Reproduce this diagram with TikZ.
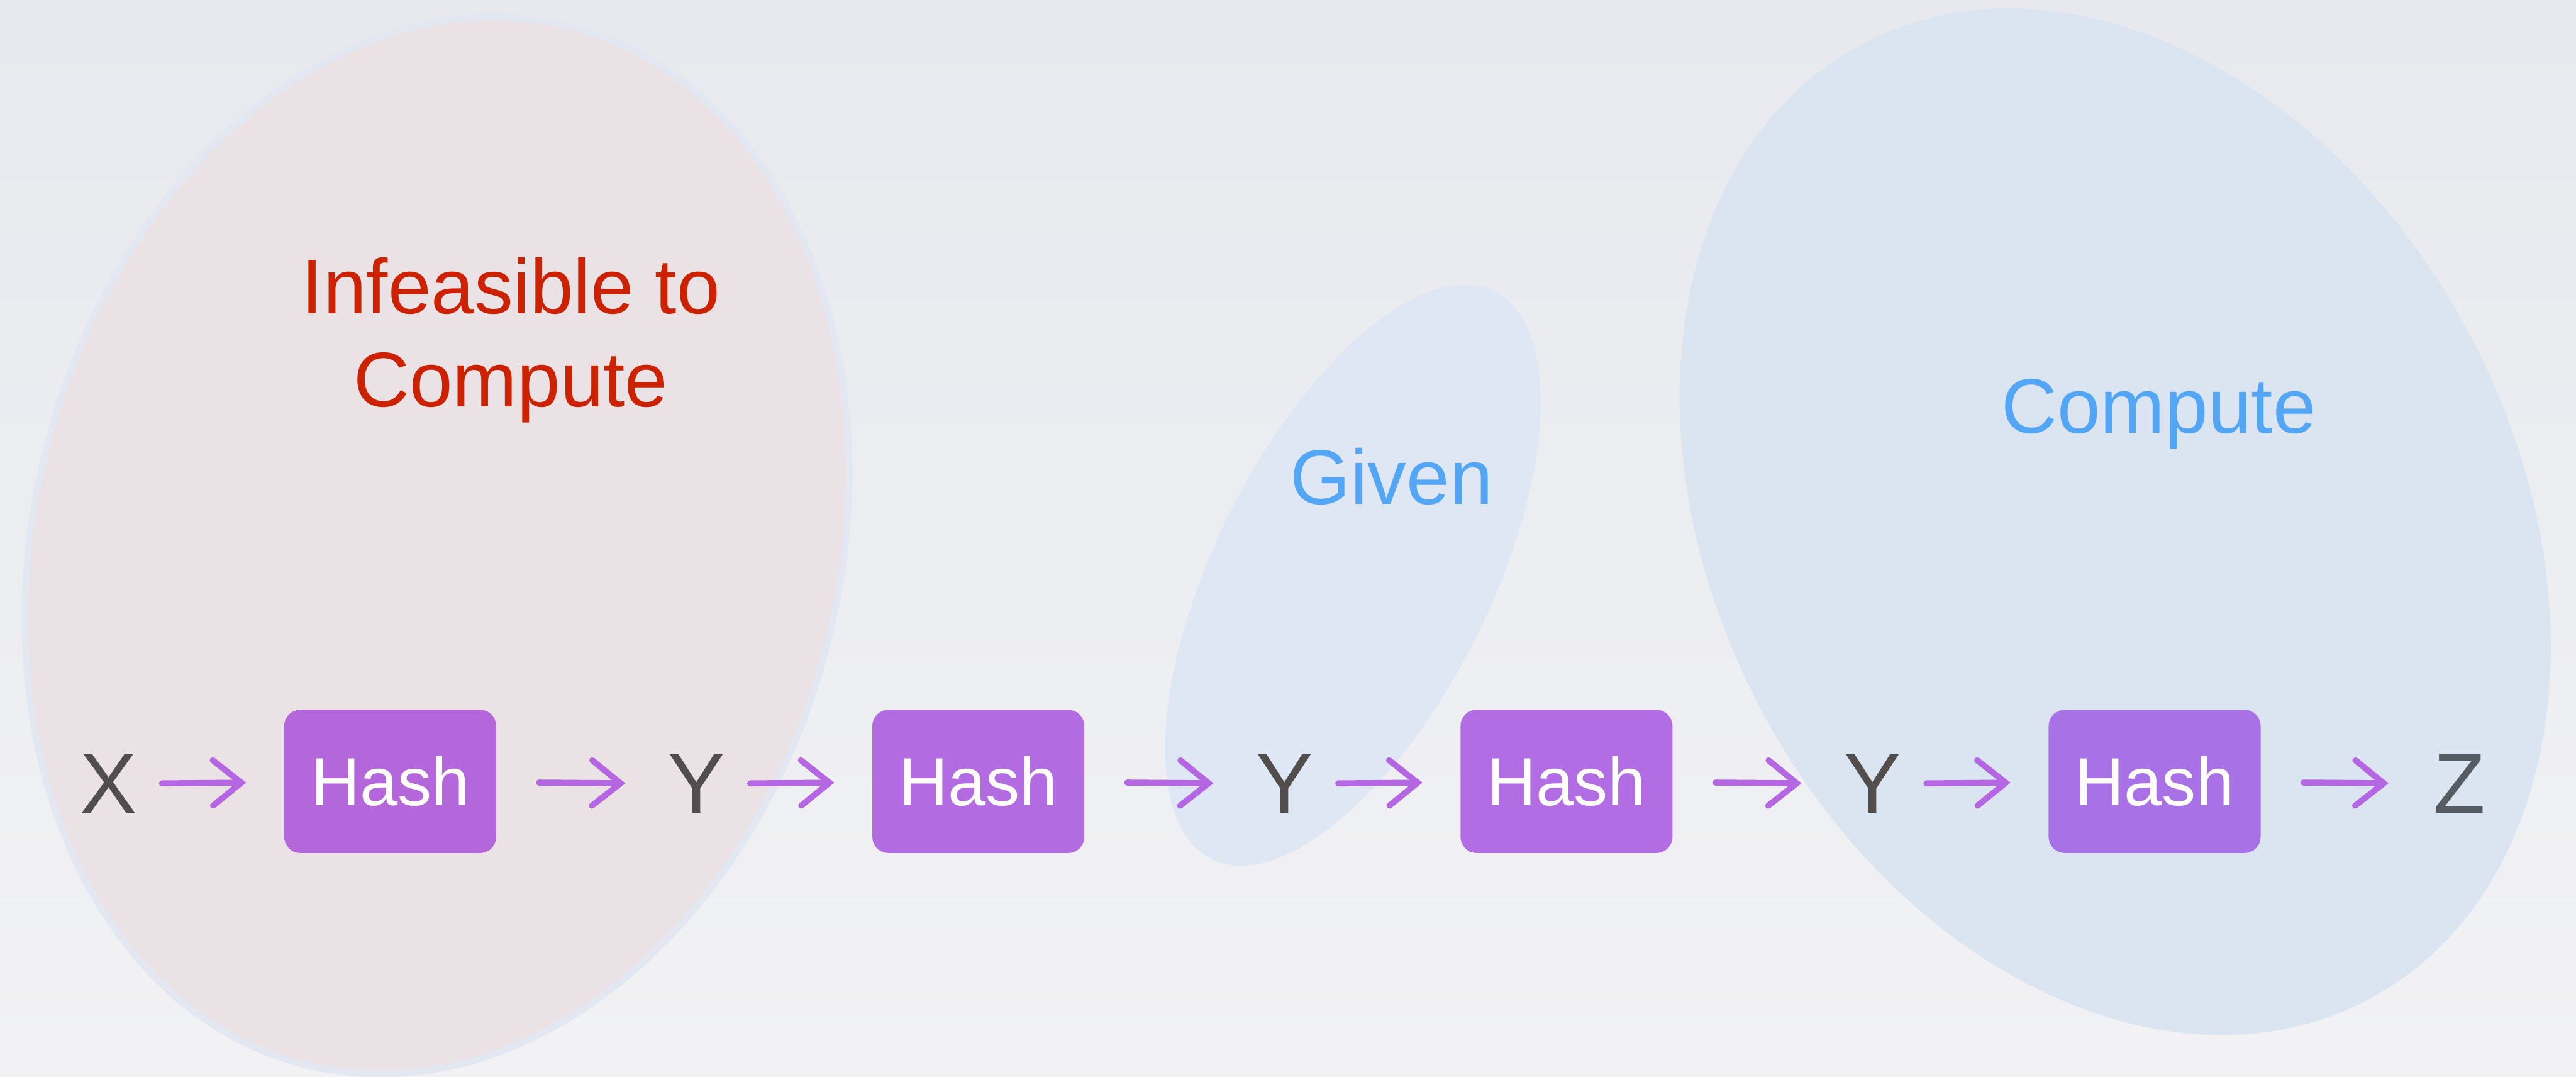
\documentclass[tikz,border=0pt]{standalone}
\usepackage{fontspec}
\setmainfont{Liberation Sans}
\usetikzlibrary{arrows.meta}

\definecolor{bgtop}{RGB}{231,233,238}
\definecolor{bgbot}{RGB}{242,242,245}
\definecolor{redblob}{RGB}{235,226,229}
\definecolor{redrim}{RGB}{226,231,241}
\definecolor{givenblob}{RGB}{223,231,245}
\definecolor{computeblob}{RGB}{219,229,241}
\definecolor{hashA}{RGB}{179,103,218}
\definecolor{hashB}{RGB}{179,107,226}
\definecolor{hashC}{RGB}{178,108,228}
\definecolor{hashD}{RGB}{168,113,230}
\definecolor{arrowcol}{RGB}{181,102,226}
\definecolor{redtext}{RGB}{204,34,0}
\definecolor{bluetext}{RGB}{82,166,245}
\definecolor{lettercol}{RGB}{82,78,78}
\definecolor{zcol}{RGB}{85,92,100}

\tikzset{
  hashbox/.style={rounded corners=0.3cm, minimum width=3.94cm, minimum height=2.66cm,
    inner sep=0pt, text=white, font=\fontsize{36}{40}\selectfont},
  letter/.style={inner sep=0pt, minimum width=1.04cm, text=lettercol,
    font=\fontsize{45}{50}\selectfont},
  caption/.style={align=center, inner sep=0pt, font=\fontsize{41}{49}\selectfont},
  flow/.style={draw=arrowcol, line width=3.2pt, line cap=round, line join=round,
    -{Straight Barb[length=15pt, width=24pt, line cap=round]}},
  toHash/.style={flow, shorten <=0.46cm, shorten >=0.70cm},
  fromHash/.style={flow, shorten <=0.79cm, shorten >=0.79cm},
}

\begin{document}
\begin{tikzpicture}[x=0.030536cm, y=-0.030536cm]
  \useasboundingbox (0,0) rectangle (1568,655);
  % backdrop
  \shade[top color=bgtop, bottom color=bgbot] (0,0) rectangle (1568,655);

  % region: infeasible to compute
  \filldraw[fill=redblob, draw=redrim, line width=3.5pt,
            rotate around={-14.4:(266,332)}]
    (266,332) ellipse [x radius=245, y radius=326];

  % region: given
  \fill[givenblob, rotate around={-26.5:(823.5,350)}]
    (823.5,350) ellipse [x radius=84, y radius=193];

  % region: compute
  \fill[computeblob, rotate around={28:(1287.5,317.5)}]
    (1287.5,317.5) ellipse [x radius=244, y radius=329];

  % captions
  \node[caption, text=redtext] (infeasible) at (311,207) {Infeasible to\\Compute};
  \node[caption, text=bluetext] (given) at (847,290) {Given};
  \node[caption, text=bluetext] (compute) at (1314,252) {Compute};

  % hash chain
  \node[letter] (x) at (66,477) {X};
  \node[hashbox, fill=hashA] (h1) at (237.5,475.5) {Hash};
  \node[letter] (y1) at (424,477) {Y};
  \node[hashbox, fill=hashB] (h2) at (595.5,475.5) {Hash};
  \node[letter] (y2) at (782,477) {Y};
  \node[hashbox, fill=hashC] (h3) at (953.5,475.5) {Hash};
  \node[letter] (y3) at (1140,477) {Y};
  \node[hashbox, fill=hashD] (h4) at (1311.5,475.5) {Hash};
  \node[letter, text=zcol] (z) at (1497,477) {Z};

  \draw[toHash] (x) -- (h1);
  \draw[fromHash] (h1) -- (y1);
  \draw[toHash] (y1) -- (h2);
  \draw[fromHash] (h2) -- (y2);
  \draw[toHash] (y2) -- (h3);
  \draw[fromHash] (h3) -- (y3);
  \draw[toHash] (y3) -- (h4);
  \draw[fromHash] (h4) -- (z);
\end{tikzpicture}
\end{document}
